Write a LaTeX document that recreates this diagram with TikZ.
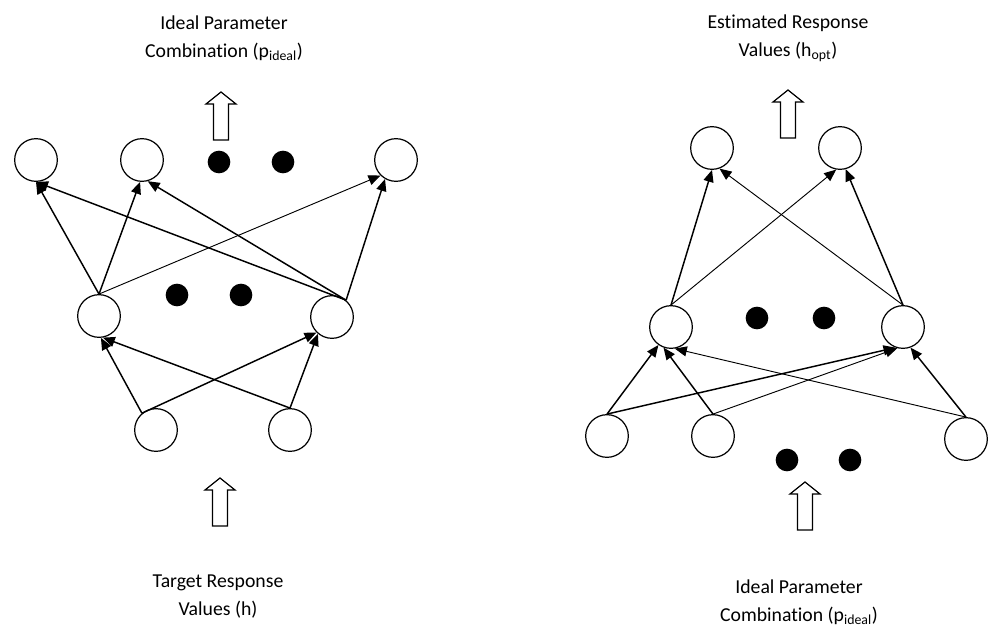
\documentclass[tikz,border=0pt]{standalone}
\usepackage{fontspec}
\setmainfont{Carlito}[Ligatures=NoCommon]
\usetikzlibrary{arrows.meta}
\begin{document}
\begin{tikzpicture}[x=0.75pt,y=-0.75pt,
  neuron/.style={circle,draw,line width=0.9pt,minimum size=32pt,inner sep=0pt},
  dotnode/.style={circle,fill=black,minimum size=17pt,inner sep=0pt},
  conn/.style={line width=1.1pt,-{Triangle[length=9pt,width=7.5pt]}},
  thinconn/.style={line width=0.7pt,-{Triangle[length=9pt,width=7.5pt]}},
  caption/.style={align=center,font=\fontsize{14.8}{21}\selectfont,inner sep=0pt},
  blockup/.pic={\draw[line width=0.9pt,fill=white]
      (-7.5,48) -- (-7.5,12) -- (-15,12) -- (0,0) -- (15,12) -- (7.5,12) -- (7.5,48) -- cycle;}]
\useasboundingbox (0,0) rectangle (988,628);

% ---------------- left network ----------------
\node[neuron] (lc1) at (36,160) {};
\node[neuron] (lc2) at (142,160) {};
\node[neuron] (lc3) at (396,160) {};
\node[dotnode] (ld1) at (219,162) {};
\node[dotnode] (ld2) at (283,162) {};
\node[neuron] (lm1) at (99,316) {};
\node[neuron] (lm2) at (332,317) {};
\node[dotnode] (ld3) at (177,295) {};
\node[dotnode] (ld4) at (241,295) {};
\node[neuron] (lb1) at (156,430) {};
\node[neuron] (lb2) at (290,430) {};

\draw[conn] (lm1.north) -- (lc1.south);
\draw[conn] (lm1.north) -- (lc2.265);
\draw[thinconn] (lm1.north) -- (lc3.225);
\draw[conn] (lm2.50) -- (lc1.south);
\draw[conn] (lm2.50) -- (lc2.285);
\draw[conn] (lm2.50) -- (lc3.240);

\draw[conn] (lb1.130) -- (lm1.275);
\draw[conn] (lb1.130) -- (lm2.225);
\draw[conn] (lb2.north) -- (lm1.280);
\draw[conn] (lb2.north) -- (lm2.230);

\pic at (221,92) {blockup};
\pic at (220,478) {blockup};
\node[caption] (ltop) at (224,38) {Ideal Parameter\\Combination (p\textsubscript{ideal})};
\node[caption] (lbot) at (218,597) {Target Response\\Values (h)};

% ---------------- right network ----------------
\node[neuron] (rt1) at (712,148) {};
\node[neuron] (rt2) at (840,148) {};
\node[neuron] (rm1) at (671,327) {};
\node[neuron] (rm2) at (903,327) {};
\node[dotnode] (rd1) at (757,318) {};
\node[dotnode] (rd2) at (824,318) {};
\node[neuron] (rb1) at (607,436) {};
\node[neuron] (rb2) at (713,436) {};
\node[neuron] (rb3) at (966,439) {};
\node[dotnode] (rd3) at (787,460) {};
\node[dotnode] (rd4) at (850,460) {};

\draw[conn] (rm1.north) -- (rt1.south);
\draw[thinconn] (rm1.north) -- (rt2.260);
\draw[thinconn] (rm2.north) -- (rt1.290);
\draw[conn] (rm2.north) -- (rt2.285);

\draw[conn] (rb1.north) -- (rm1.235);
\draw[conn] (rb1.north) -- (rm2.250);
\draw[conn] (rb2.north) -- (rm1.250);
\draw[thinconn] (rb2.north) -- (rm2.255);
\draw[thinconn] (rb3.north) -- (rm1.280);
\draw[conn] (rb3.north) -- (rm2.290);

\pic at (788,90) {blockup};
\pic at (805,482) {blockup};
\node[caption] (rtop) at (788,38) {Estimated Response\\Values (h\textsubscript{opt})};
\node[caption] (rbot) at (799,602) {Ideal Parameter\\Combination (p\textsubscript{ideal})};
\end{tikzpicture}
\end{document}
